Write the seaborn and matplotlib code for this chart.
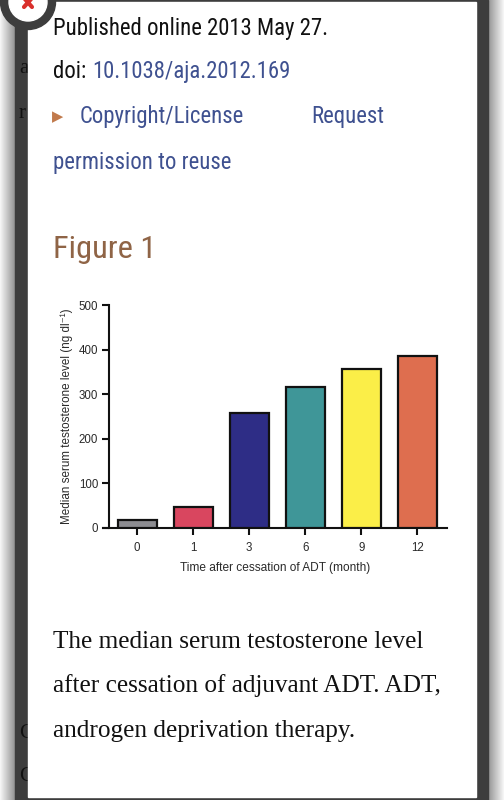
import matplotlib
matplotlib.use("Agg")
import matplotlib.pyplot as plt
import matplotlib.patches as mpatches
import numpy as np
import pandas as pd
import seaborn as sns

# Data
months = ["0", "1", "3", "6", "9", "12"]
testosterone = [17, 47, 257, 317, 356, 386]
bar_colors = ["#8c8c91", "#d9465f", "#2e2d86", "#3f9698", "#fbee48", "#de6e4f"]
y_ticks = [0, 100, 200, 300, 400, 500]

caption_lines = [
    "The median serum testosterone level",
    "after cessation of adjuvant ADT. ADT,",
    "androgen deprivation therapy.",
]

sns.set_style("white")
plt.rcParams["font.family"] = ["Liberation Sans", "DejaVu Sans"]

W, H = 504, 800
fig = plt.figure(figsize=(W / 100, H / 100), dpi=100)
fig.patch.set_facecolor("white")

# Background axes in pixel coordinates for the page frame and text
bg = fig.add_axes([0, 0, 1, 1])
bg.set_xlim(0, W)
bg.set_ylim(H, 0)
bg.axis("off")

# page behind the overlay (shadow gradient on both sides)
grad = np.linspace(0.97, 0.55, 50).reshape(1, -1)
bg.imshow(grad, extent=(0, 16, H, 0), cmap="gray", vmin=0, vmax=1, aspect="auto")
bg.imshow(grad[:, ::-1], extent=(487, W, H, 0), cmap="gray", vmin=0, vmax=1, aspect="auto")
bg.add_patch(mpatches.Rectangle((15, 0), 473, H, color="#3d3d3d", zorder=1))
bg.add_patch(mpatches.Rectangle((28, 2), 448, 795, color="white", zorder=2))
bg.set_xlim(0, W)
bg.set_ylim(H, 0)

# bits of the underlying page peeking through
for ch, yy in [("a", 73), ("r", 118), ("C", 738), ("C", 781)]:
    bg.text(19, yy, ch, fontsize=15, family="Liberation Serif", color="#111111",
            va="baseline", zorder=1.5)

# close button
bg.add_patch(mpatches.Circle((28, 2), 27.5, color="#3d3d3d", zorder=3))
bg.add_patch(mpatches.Circle((28, 2), 19, color="white", zorder=4))
bg.plot([24, 32], [-2, 7], color="#d9302c", lw=3.0, zorder=5, solid_capstyle="round")
bg.plot([32, 24], [-2, 7], color="#d9302c", lw=3.0, zorder=5, solid_capstyle="round")

narrow = ["Roboto Condensed", "Open Sans Condensed", "Arial Narrow", "Roboto", "DejaVu Sans"]
link = "#3f5190"
fs = 16.4
bg.text(53, 35, "Published online 2013 May 27.", fontsize=fs, family=narrow,
        color="#111111", va="baseline", zorder=6)
bg.text(53, 78, "doi:", fontsize=fs, family=narrow, color="#111111", va="baseline", zorder=6)
bg.text(92, 78, "10.1038/aja.2012.169", fontsize=fs, family=narrow, color=link,
        va="baseline", zorder=6)
bg.text(52, 121, "\u25B6", fontsize=10.5, family="DejaVu Sans", color="#c17a4c",
        va="baseline", zorder=6)
bg.text(80, 123, "Copyright/License", fontsize=fs, family=narrow, color=link,
        va="baseline", zorder=6)
bg.text(311, 123, "Request", fontsize=fs, family=narrow, color=link,
        va="baseline", zorder=6)
bg.text(53, 169, "permission to reuse", fontsize=fs, family=narrow, color=link,
        va="baseline", zorder=6)
bg.text(53, 258, "Figure 1", fontsize=23.4, family=narrow, color="#8f6446",
        va="baseline", zorder=6)

for line, yy in zip(caption_lines, [648, 692, 737]):
    bg.text(53, yy, line, fontsize=18.2, family="Liberation Serif", color="#111111",
            va="baseline", zorder=6)

# Chart axes
ax = fig.add_axes([103 / W, 272 / H, 344 / W, 223 / H])
df = pd.DataFrame({"month": months, "level": testosterone})
sns.barplot(data=df, x="month", y="level", hue="month", order=months,
            palette=bar_colors, saturation=1, width=0.69, edgecolor="#111111",
            linewidth=1.6, legend=False, ax=ax, zorder=3)
ax.set_facecolor("none")
ax.set_xlim(-0.61, 5.53)
ax.set_ylim(0, 500)
ax.set_yticks(y_ticks)
ax.spines["left"].set_position(("data", -0.5))
ax.spines["left"].set_bounds(0, 500)
for s in ["top", "right"]:
    ax.spines[s].set_visible(False)
for s in ["left", "bottom"]:
    ax.spines[s].set_color("#111111")
    ax.spines[s].set_linewidth(1.5)
ax.tick_params(axis="both", direction="out", length=5, width=1.5, color="#111111",
               labelsize=8.3, labelcolor="#2a2a2a", pad=3, left=True, bottom=True)
ax.tick_params(axis="x", pad=5)
ax.set_xlabel("Time after cessation of ADT (month)", fontsize=8.6, color="#2a2a2a",
              labelpad=6)
ax.set_ylabel("Median serum testosterone level (ng dl\u207B\u00B9)", fontsize=8.4,
              color="#2a2a2a", labelpad=4)

fig.savefig("out.png", dpi=100)
